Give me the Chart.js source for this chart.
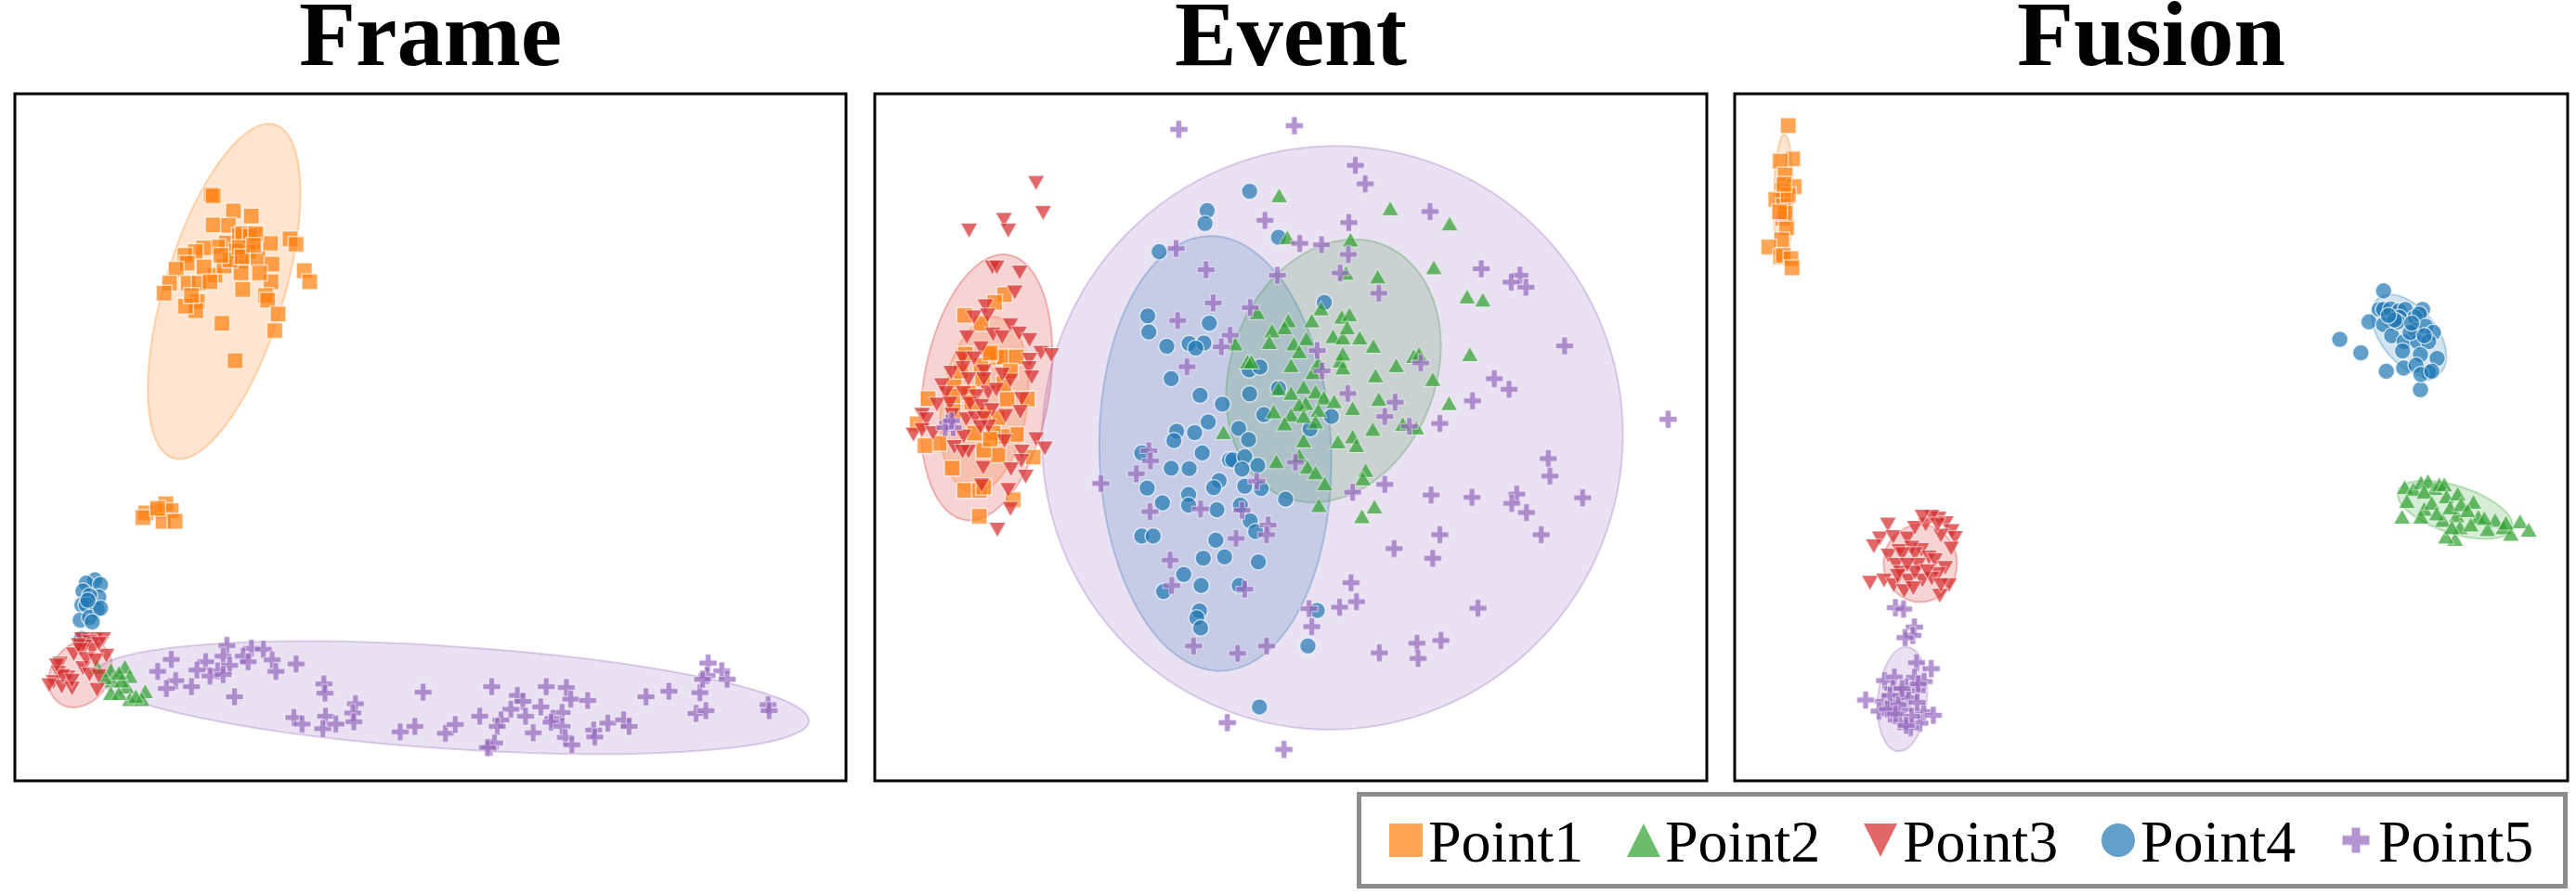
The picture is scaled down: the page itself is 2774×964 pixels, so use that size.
<!DOCTYPE html>
<html>
<head>
<meta charset="utf-8">
<script src="https://cdn.jsdelivr.net/npm/chart.js@4/dist/chart.umd.js"></script>
<style>
  html,body{margin:0;padding:0;background:#fff;width:2774px;height:964px;overflow:hidden;}
  canvas{position:absolute;display:block;}
  #legend{position:absolute;left:1461px;top:853px;width:1304px;height:104px;box-sizing:border-box;border:5px solid #8c8c8c;}
  #legend span{position:absolute;top:17px;font:64px/64px "Liberation Serif",serif;color:#000;}
</style>
</head>
<body>
<canvas id="frame" width="901" height="844" style="left:13px;top:0"></canvas>
<canvas id="event" width="902" height="844" style="left:939px;top:0"></canvas>
<canvas id="fusion" width="903" height="844" style="left:1865px;top:0"></canvas>
<div id="legend"></div>
<script>
// values, x grows right and y grows down
const seriesNames = ['Point1','Point2','Point3','Point4','Point5'];
const seriesColors = ['255,127,14','44,160,44','214,39,40','31,119,180','148,103,189'];

const frameLimits = [28,1553,42,1530];
const eventLimits = [21,1548,42,1530];
const fusionLimits = [13,1552,42,1530];

const framePoint1 = [[388,260],[392,263],[429,296],[462,307],[392,326],[420,327],[467,348],[466,363],[464,365],[416,365],[400,374],[374,376],[359,384],[340,392],[344,409],[324,422],[440,348],[446,345],[497,366],[533,356],[544,368],[443,382],[457,384],[474,399],[443,405],[500,411],[559,425],[569,449],[443,430],[498,449],[395,435],[375,417],[412,415],[346,452],[366,452],[312,452],[302,474],[446,466],[488,479],[492,489],[363,492],[360,512],[341,502],[352,479],[511,519],[408,539],[505,555],[432,620],[477,430],[434,382],[423,402],[406,392],[386,449],[460,350],[470,345],[440,375],[445,395],[466,370],[305,930],[290,945],[268,950],[263,960],[315,945],[300,968],[322,968],[290,940]];
const framePoint2 = [[204,1290],[230,1283],[239,1303],[207,1313],[233,1326],[204,1340],[239,1353],[219,1340],[267,1336],[261,1353],[250,1347],[224,1313],[179,1283],[193,1306],[219,1296]];
const framePoint3 = [[176,1223],[151,1223],[190,1223],[165,1229],[136,1256],[170,1246],[196,1259],[156,1239],[145,1236],[153,1286],[111,1276],[125,1306],[108,1296],[99,1316],[114,1326],[133,1330],[179,1333],[165,1300],[182,1303],[91,1323],[116,1303],[148,1246],[182,1233],[159,1266],[133,1313],[105,1280],[176,1269]];
const framePoint4 = [[175,1095],[159,1102],[185,1105],[153,1119],[182,1132],[165,1129],[151,1149],[159,1149],[179,1159],[148,1182],[165,1176],[185,1156],[170,1186],[162,1139],[150,1222]];
const framePoint5 = [[417,1237],[462,1243],[484,1245],[315,1267],[378,1272],[410,1260],[447,1260],[456,1272],[500,1268],[544,1277],[290,1293],[362,1290],[422,1280],[400,1292],[386,1303],[410,1300],[507,1293],[323,1313],[306,1330],[352,1326],[431,1348],[595,1320],[597,1340],[653,1363],[648,1383],[650,1402],[777,1338],[903,1326],[950,1345],[960,1358],[1003,1326],[1040,1328],[1048,1353],[1079,1356],[993,1370],[938,1375],[881,1390],[920,1398],[965,1390],[1032,1382],[1015,1395],[1012,1403],[1032,1412],[540,1393],[555,1407],[598,1390],[593,1417],[617,1407],[735,1424],[762,1412],[818,1427],[836,1408],[913,1412],[979,1426],[1038,1436],[1050,1452],[1090,1420],[1092,1435],[1116,1405],[1145,1398],[1155,1412],[1186,1348],[1228,1336],[1285,1339],[1300,1275],[1325,1292],[1298,1302],[1335,1310],[1290,1310],[1278,1384],[1296,1378],[1410,1365],[1412,1378],[900,1457],[908,1448],[895,1458]];
// ellipses: centre x, centre y, half width, half height, correlation
const frameEllipses = [[412,470,140,363,-0.586],[148,1298,58,73,-0.22],[830,1350,655,122,0.41]];
const frameEllipseSeries = [0,2,4];

const eventPoint1 = [[259,477],[241,494],[186,522],[216,539],[244,613],[258,612],[281,612],[230,606],[187,606],[264,703],[301,703],[119,702],[167,670],[165,697],[219,660],[258,670],[193,690],[247,744],[281,780],[255,784],[238,777],[247,824],[221,814],[312,829],[139,799],[113,804],[163,853],[186,901],[213,901],[221,894],[275,921],[213,957],[270,643],[216,630],[233,603],[179,643],[221,737],[204,777],[233,790],[199,710],[165,730],[99,757]];
const eventPoint2 = [[763,262],[967,290],[1076,323],[778,353],[894,358],[886,430],[1047,418],[944,438],[1108,481],[1137,488],[840,507],[723,515],[823,533],[878,525],[892,520],[780,533],[773,548],[750,555],[745,580],[682,583],[790,583],[813,572],[862,567],[880,570],[888,548],[911,570],[936,588],[800,600],[1113,606],[1010,610],[1020,605],[705,622],[712,622],[785,630],[875,620],[880,635],[978,630],[825,645],[940,652],[1045,660],[808,677],[830,687],[762,680],[785,690],[845,700],[946,703],[1075,712],[812,712],[800,715],[864,708],[898,723],[753,730],[785,737],[808,740],[835,727],[830,752],[773,756],[935,768],[990,757],[1015,765],[661,775],[808,793],[898,784],[871,795],[905,803],[800,825],[758,838],[815,850],[830,862],[922,857],[917,875],[847,886],[836,933],[938,936],[915,957],[880,605],[835,625]];
const eventPoint3 = [[317,235],[330,300],[194,338],[258,315],[266,338],[237,418],[245,418],[287,429],[278,472],[224,502],[203,526],[228,522],[270,543],[190,569],[238,563],[255,569],[286,561],[305,575],[216,593],[326,603],[345,608],[182,615],[203,615],[305,618],[161,646],[183,636],[221,643],[304,636],[270,663],[221,660],[193,660],[255,650],[309,656],[144,673],[152,690],[184,690],[229,689],[244,683],[207,697],[291,703],[135,715],[159,713],[196,713],[217,718],[288,731],[108,737],[116,747],[163,737],[236,727],[261,740],[189,747],[205,744],[221,744],[230,762],[184,784],[92,780],[108,770],[128,777],[167,807],[193,817],[182,817],[259,794],[317,790],[333,810],[291,817],[290,837],[220,852],[271,855],[298,871],[217,890],[266,900],[270,941],[246,986],[215,764]];
const eventPoint4 = [[709,253],[631,295],[627,323],[762,353],[543,384],[846,494],[522,523],[524,558],[635,539],[598,583],[625,582],[610,593],[557,589],[565,659],[708,640],[728,634],[618,695],[659,714],[709,692],[762,680],[735,737],[859,741],[633,753],[575,773],[570,793],[608,776],[689,767],[707,791],[820,768],[622,820],[511,820],[672,835],[678,835],[700,828],[565,853],[598,854],[695,855],[724,847],[653,880],[643,895],[700,892],[730,897],[521,896],[597,910],[775,920],[549,928],[597,933],[649,943],[692,933],[710,967],[720,990],[511,1000],[532,1000],[647,1009],[624,1048],[663,1045],[725,1056],[588,1083],[620,1107],[690,1107],[551,1120],[833,1161],[617,1162],[612,1177],[619,1199],[816,1238],[727,1370]];
const eventPoint5 = [[579,119],[791,111],[903,197],[921,237],[1040,297],[891,321],[737,316],[574,377],[801,366],[841,369],[890,390],[629,423],[760,435],[875,430],[1134,421],[1205,435],[1189,450],[1216,461],[946,474],[642,495],[710,505],[577,533],[673,565],[657,590],[833,598],[1287,588],[594,633],[1023,625],[842,642],[1158,659],[1185,682],[889,691],[976,710],[1118,707],[957,741],[1058,756],[1002,762],[1477,747],[524,815],[527,837],[501,865],[436,886],[793,840],[722,881],[957,888],[898,905],[1042,911],[1117,916],[1199,909],[1190,929],[1320,917],[526,947],[619,941],[695,944],[1217,949],[743,976],[740,997],[1058,997],[1244,997],[684,1005],[974,1027],[1045,1048],[563,1052],[895,1101],[566,1107],[700,1115],[905,1142],[818,1157],[874,1154],[1128,1156],[823,1196],[1060,1226],[1016,1232],[606,1238],[740,1238],[687,1254],[947,1253],[1018,1265],[668,1404],[772,1462],[1257,832],[1260,870],[155,755],[165,765],[150,765],[162,750]];
const eventEllipses = [[222,715,81,190,-0.22],[646,821,213,471,0.04],[863,642,197,285,-0.19],[226,678,121,288,-0.256],[861,787,533,632,-0.01]];
const eventEllipseSeries = [0,3,1,2,4];

const fusionPoint1 = [[112,111],[120,183],[97,188],[106,218],[123,243],[100,251],[103,268],[89,271],[107,291],[103,285],[102,312],[109,332],[100,358],[76,374],[98,395],[103,392],[117,399],[119,419],[106,301],[96,298],[112,261],[104,238]];
const fusionPoint2 = [[1251,894],[1267,898],[1281,884],[1294,881],[1307,896],[1315,888],[1324,888],[1287,904],[1255,924],[1246,958],[1328,914],[1349,908],[1378,926],[1287,941],[1301,928],[1347,955],[1321,965],[1335,938],[1310,951],[1387,958],[1355,931],[1418,965],[1404,985],[1433,981],[1464,968],[1480,986],[1447,995],[1353,981],[1344,1006],[1327,1001],[1373,975],[1398,961],[1438,971],[1281,958],[1338,981],[1367,944]];
const fusionPoint3 = [[296,975],[281,1005],[270,1022],[306,1002],[332,1005],[346,982],[366,975],[390,962],[377,958],[360,958],[403,972],[414,989],[420,1004],[394,999],[413,1027],[297,1042],[317,1032],[358,1030],[340,1025],[346,1039],[372,1046],[323,1039],[311,1062],[352,1062],[383,1052],[402,1069],[320,1079],[334,1096],[360,1096],[389,1082],[263,1101],[289,1096],[307,1106],[326,1119],[409,1106],[392,1129],[377,1092],[346,1079],[369,1076],[394,1106],[332,1062],[314,1086],[343,1113],[388,975]];
const fusionPoint4 = [[1212,469],[1185,536],[1131,574],[1170,603],[1217,643],[1249,636],[1280,683],[1204,509],[1212,509],[1225,508],[1241,512],[1252,509],[1284,509],[1270,526],[1278,519],[1230,539],[1241,526],[1212,542],[1227,566],[1270,555],[1290,546],[1304,559],[1250,579],[1275,579],[1295,579],[1247,599],[1280,607],[1311,615],[1272,630],[1295,646],[1281,650],[1301,643],[1238,536],[1261,559],[1232,532],[1221,522],[1287,566],[1264,539]];
const fusionPoint5 = [[310,1155],[325,1158],[345,1197],[342,1215],[328,1220],[349,1274],[376,1287],[290,1313],[308,1305],[345,1306],[363,1315],[330,1327],[305,1330],[350,1335],[255,1355],[288,1358],[305,1360],[325,1375],[280,1379],[362,1380],[380,1388],[318,1402],[355,1405],[338,1415],[300,1385],[340,1390],[300,1345],[320,1345],[335,1350],[315,1365],[350,1360],[295,1375],[310,1385],[330,1410],[322,1330],[352,1320]];
const fusionEllipses = [[103,270,18,140,-0.1],[1259,566,69,89,0.5],[1344,943,106,63,0.53],[356,1059,68,84,0],[323,1353,46,113,-0.15]];
const fusionEllipseSeries = [0,3,1,2,4];

const markAlpha = 0.7;
const edgeColor = 'rgba(255,255,255,0.65)';

// triangle and plus marks are small canvases, centred on their box like the originals
function shapeMark(w, h, path, color){
  const c = document.createElement('canvas');
  c.width = Math.ceil(w) + 4;
  c.height = Math.ceil(h) + 4;
  const g = c.getContext('2d');
  g.translate(c.width/2, c.height/2);
  g.beginPath();
  path(g, w/2, h/2);
  g.closePath();
  g.strokeStyle = edgeColor; g.lineWidth = 1.5; g.stroke();
  g.fillStyle = color; g.fill();
  return c;
}
function triangleMark(w, h, up, color){
  return shapeMark(w, h, (g, a, b)=>{
    const d = up ? 1 : -1;
    g.moveTo(0,-b*d); g.lineTo(a,b*d); g.lineTo(-a,b*d);
  }, color);
}
function plusMark(w, h, tx, ty, color){
  return shapeMark(w, h, (g, a, b)=>{
    const t = tx/2, u = ty/2;
    g.moveTo(-t,-b); g.lineTo(t,-b); g.lineTo(t,-u); g.lineTo(a,-u); g.lineTo(a,u); g.lineTo(t,u);
    g.lineTo(t,b); g.lineTo(-t,b); g.lineTo(-t,u); g.lineTo(-a,u); g.lineTo(-a,-u); g.lineTo(-t,-u);
  }, color);
}
const fill = i => `rgba(${seriesColors[i]},${markAlpha})`;

const pointStyles = [
  {pointStyle:'rect', radius:12},
  {pointStyle:triangleMark(17,15,true,fill(1)), radius:9},
  {pointStyle:triangleMark(17,15,false,fill(2)), radius:9},
  {pointStyle:'circle', radius:8.8},
  {pointStyle:plusMark(18.5,18.5,5.5,5.5,fill(4)), radius:9}
];

const ellipsePlugin = {
  id:'ellipses',
  beforeDatasetsDraw(chart, args, opts){
    const ctx = chart.ctx, xs = chart.scales.x, ys = chart.scales.y;
    opts.list.forEach((e, i)=>{
      const rgb = seriesColors[opts.series[i]];
      const cx = xs.getPixelForValue(e[0]), cy = ys.getPixelForValue(e[1]);
      const ax = xs.getPixelForValue(e[0]+e[2]) - cx;
      const ay = ys.getPixelForValue(e[1]+e[3]*e[4]) - cy;
      const by = ys.getPixelForValue(e[1]+e[3]*Math.sqrt(1-e[4]*e[4])) - cy;
      ctx.save();
      ctx.beginPath();
      ctx.transform(ax, ay, 0, by, cx, cy);
      ctx.arc(0,0,1,0,Math.PI*2);
      ctx.restore();
      ctx.save();
      ctx.fillStyle = `rgba(${rgb},0.2)`;
      ctx.fill();
      ctx.strokeStyle = `rgba(${rgb},0.3)`;
      ctx.lineWidth = 2;
      ctx.stroke();
      ctx.restore();
    });
  }
};

const framePlugin = {
  id:'panelFrame',
  afterDraw(chart){
    const a = chart.chartArea, ctx = chart.ctx;
    ctx.save();
    ctx.strokeStyle = '#000';
    ctx.lineWidth = 3;
    ctx.strokeRect(a.left, a.top, a.right-a.left, a.bottom-a.top);
    ctx.restore();
  }
};

// draw order back to front: orange, blue, green, red, purple
const zOrder = [0,3,1,2,4];

function drawPanel(id, title, limits, series, ellipses, ellipseSeries){
  const datasets = zOrder.map((s, i)=>({
    label: seriesNames[s],
    data: series[s].map(p=>({x:p[0], y:p[1]})),
    order: zOrder.length - i,
    backgroundColor: fill(s),
    borderColor: edgeColor,
    borderWidth: 1.5,
    pointStyle: pointStyles[s].pointStyle,
    pointRadius: pointStyles[s].radius
  }));
  return new Chart(document.getElementById(id), {
    type:'scatter',
    data:{datasets},
    options:{
      responsive:false,
      animation:false,
      layout:{autoPadding:false, padding:{left:3,right:3,top:0,bottom:3}},
      scales:{
        x:{display:false, min:limits[0], max:limits[1]},
        y:{display:false, min:limits[2], max:limits[3], reverse:true}
      },
      plugins:{
        legend:{display:false},
        tooltip:{enabled:false},
        title:{
          display:true,
          text:title,
          color:'#000',
          font:{family:'"Liberation Serif"', size:100, weight:'bold', lineHeight:1},
          padding:{top:-6,bottom:7}
        },
        ellipses:{list:ellipses, series:ellipseSeries}
      }
    },
    plugins:[ellipsePlugin, framePlugin]
  });
}

drawPanel('frame','Frame',frameLimits,[framePoint1,framePoint2,framePoint3,framePoint4,framePoint5],frameEllipses,frameEllipseSeries);
drawPanel('event','Event',eventLimits,[eventPoint1,eventPoint2,eventPoint3,eventPoint4,eventPoint5],eventEllipses,eventEllipseSeries);
drawPanel('fusion','Fusion',fusionLimits,[fusionPoint1,fusionPoint2,fusionPoint3,fusionPoint4,fusionPoint5],fusionEllipses,fusionEllipseSeries);

// html legend, keys drawn with the library's own point helper
const legendKeys = [
  {pointStyle:'rect', radius:25.46},
  {pointStyle:triangleMark(36,36,true,fill(1)), radius:18},
  {pointStyle:triangleMark(36,36,false,fill(2)), radius:18},
  {pointStyle:'circle', radius:18},
  {pointStyle:plusMark(29,27,9,10,fill(4)), radius:15}
];
const legendKeyX = [48,304,559,815,1071];
const legendTextX = [72,327,583,839,1095];
const legend = document.getElementById('legend');
seriesNames.forEach((name, i)=>{
  const c = document.createElement('canvas');
  c.width = c.height = 48;
  c.style.left = (legendKeyX[i]-24)+'px';
  c.style.top = '23px';
  legend.appendChild(c);
  const g = c.getContext('2d');
  g.fillStyle = fill(i);
  const k = legendKeys[i];
  Chart.helpers.drawPoint(g, {pointStyle:k.pointStyle, radius:k.radius, rotation:0, borderWidth:0}, 24, 24);
  const s = document.createElement('span');
  s.textContent = name;
  s.style.left = legendTextX[i]+'px';
  legend.appendChild(s);
});
</script>
</body>
</html>
